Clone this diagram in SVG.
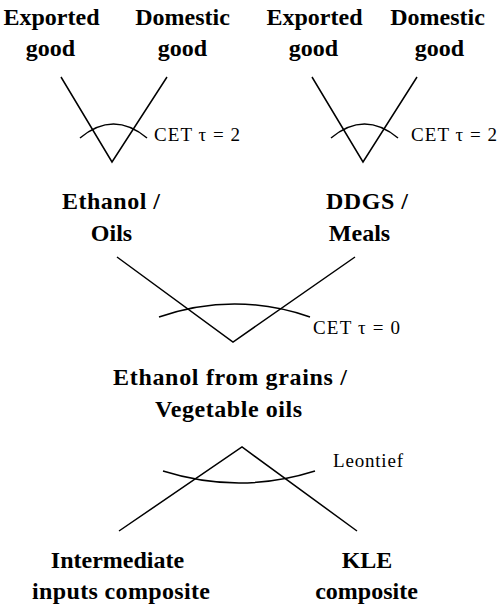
<svg xmlns="http://www.w3.org/2000/svg" width="498" height="605" viewBox="0 0 498 605">
<style>
.n{font-family:"Liberation Serif","Times New Roman",serif;font-weight:bold;font-size:24px;fill:#000;text-anchor:middle}
.l{font-family:"Liberation Serif","Times New Roman",serif;font-size:19px;fill:#000}
.c{fill:none;stroke:#000;stroke-width:1.5}
</style>
<rect width="498" height="605" fill="#fff"/>
<g id="exported1"><text class="n" x="51.5" y="25">Exported</text><text class="n" x="50.5" y="56">good</text></g>
<g id="domestic1"><text class="n" x="182.5" y="25">Domestic</text><text class="n" x="182.5" y="56">good</text></g>
<g id="exported2"><text class="n" x="314.5" y="25">Exported</text><text class="n" x="313.5" y="56">good</text></g>
<g id="domestic2"><text class="n" x="437.5" y="25">Domestic</text><text class="n" x="439.5" y="56">good</text></g>
<g id="ethanol"><text class="n" x="111" y="209" textLength="98">Ethanol  /</text><text class="n" x="111.5" y="241">Oils</text></g>
<g id="ddgs"><text class="n" x="367" y="209" textLength="82">DDGS /</text><text class="n" x="359.5" y="241">Meals</text></g>
<g id="production"><text class="n" x="230" y="385" textLength="234">Ethanol from grains /</text><text class="n" x="228.5" y="417" textLength="147">Vegetable oils</text></g>
<g id="intermediate"><text class="n" x="117.5" y="568">Intermediate</text><text class="n" x="121" y="599" textLength="178">inputs  composite</text></g>
<g id="kle"><text class="n" x="367" y="568">KLE</text><text class="n" x="366.5" y="599">composite</text></g>
<g id="connectors">
<polyline class="c" points="61,77 112,162 167,77"/>
<path class="c" d="M80,138 Q113.5,110 147,138"/>
<polyline class="c" points="312,77 363,162 417,77"/>
<path class="c" d="M331,138 Q364.5,110 398,138"/>
<polyline class="c" points="117,257 233,342 355,257"/>
<path class="c" d="M159,317 Q234.5,291 310,317"/>
<polyline class="c" points="119,531 242,447 357,531"/>
<path class="c" d="M163,471 Q239,495 315,471"/>
</g>
<g id="labels">
<text class="l" x="154" y="141" textLength="86">CET  τ = 2</text>
<text class="l" x="411" y="141" textLength="86">CET  τ = 2</text>
<text class="l" x="313" y="334" textLength="87">CET  τ = 0</text>
<text class="l" x="333" y="467" textLength="70">Leontief</text>
</g>
</svg>
